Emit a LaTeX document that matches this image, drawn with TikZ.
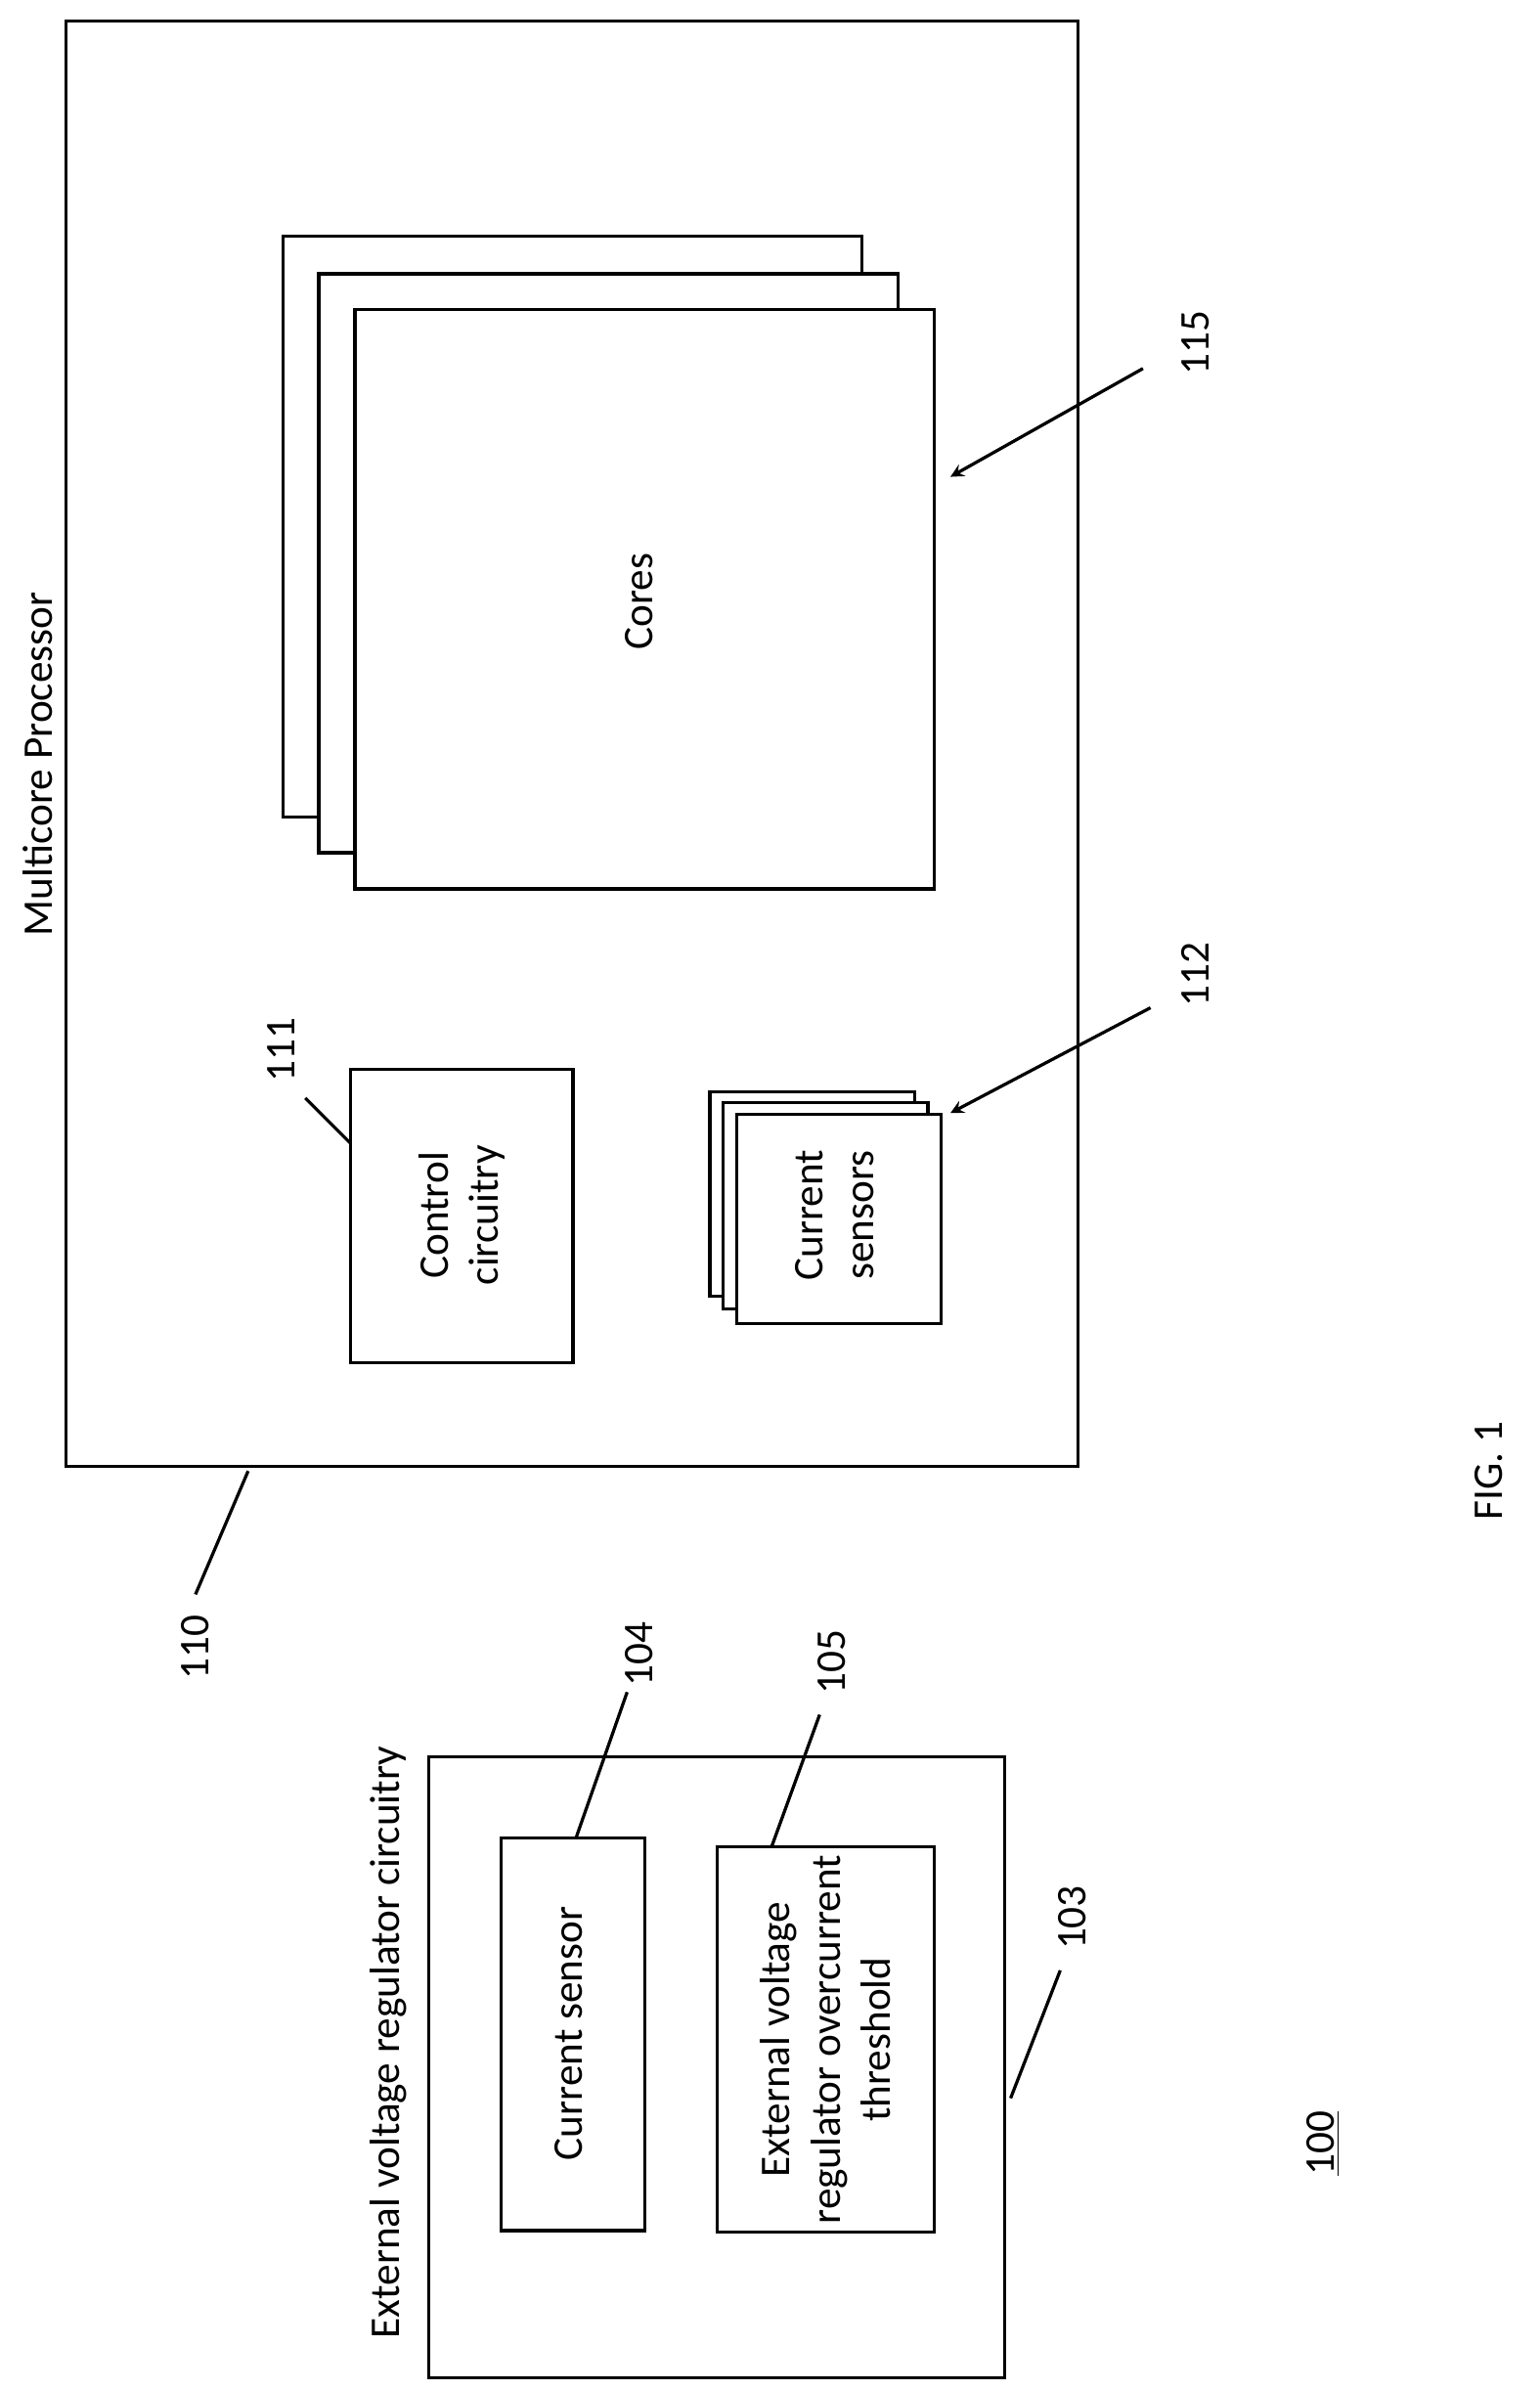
\documentclass[tikz,border=0pt]{standalone}
\usepackage{fontspec}
\setmainfont{Carlito}
\usetikzlibrary{positioning}
\tikzset{
  blk/.style={draw, line width=1.2pt, fill=white},
  txt/.style={rotate=90, font=\fontsize{16}{19}\selectfont, align=center},
  lbl/.style={rotate=90, font=\fontsize{16}{19}\selectfont},
  lead/.style={line width=1.2pt},
}
\begin{document}
\begin{tikzpicture}[x=0.2mm,y=-0.2mm]
	\useasboundingbox (0,0) rectangle (1024,1589);
	
	% Multicore processor
	\draw[blk] (44,14) rectangle (717,975);
	\node[txt] (mcp) at (25,508) {Multicore Processor};
	
	\draw[blk] (188,157) rectangle (573,543);
	\draw[blk] (212,182) rectangle (597,567);
	\draw[blk] (236,206) rectangle (621,591);
	\node[txt] (cores) at (425,400) {Cores};
	
	\draw[blk] (233,711) rectangle (381,906);
	\node[txt] (ctrl) at (307,808) {Control\\circuitry};
	
	\draw[blk] (472,726) rectangle (608,862);
	\draw[blk] (481,733) rectangle (617,870);
	\draw[blk] (490,741) rectangle (626,880);
	\node[txt] (sens) at (555,808) {Current\\sensors};
	
	% External voltage regulator
	\draw[blk] (285,1168) rectangle (668,1581);
	\node[txt] (evr) at (258,1358) {External voltage regulator circuitry};
	
	\draw[blk] (333,1222) rectangle (429,1483);
	\node[txt] (cs) at (378,1352) {Current sensor};
	
	\draw[blk] (477,1228) rectangle (621,1484);
	\node[txt] (thr) at (549,1356) {External voltage\\regulator overcurrent\\threshold};
	
	% Labels
	\node[lbl] (l115) at (795,228) {115};
	\node[lbl] (l112) at (795,648) {112};
	\node[lbl] (l111) at (187,698) {111};
	\node[lbl] (l110) at (130,1095) {110};
	\node[lbl] (l104) at (425,1100) {104};
	\node[lbl] (l105) at (553,1105) {105};
	\node[lbl] (l103) at (713,1275) {103};
	\node[lbl] (l100) at (880,1425) {\underline{100}};
	\node[lbl] (fig) at (990,978) {FIG. 1};
	
	\coordinate (a115) at (632,317);
	\coordinate (a112) at (632,740);
	\coordinate (a111) at (233,760);
	\coordinate (a110) at (165,978);
	\coordinate (a104) at (383,1222);
	\coordinate (a105) at (513,1228);
	\coordinate (a103) at (672,1395);
	
	\draw[lead,->,>=stealth] (760,245) -- (a115);
	\draw[lead,->,>=stealth] (765,670) -- (a112);
	\draw[lead] (203,730) -- (a111);
	\draw[lead] (130,1060) -- (a110);
	\draw[lead] (417,1125) -- (a104);
	\draw[lead] (545,1140) -- (a105);
	\draw[lead] (705,1310) -- (a103);
\end{tikzpicture}
\end{document}
